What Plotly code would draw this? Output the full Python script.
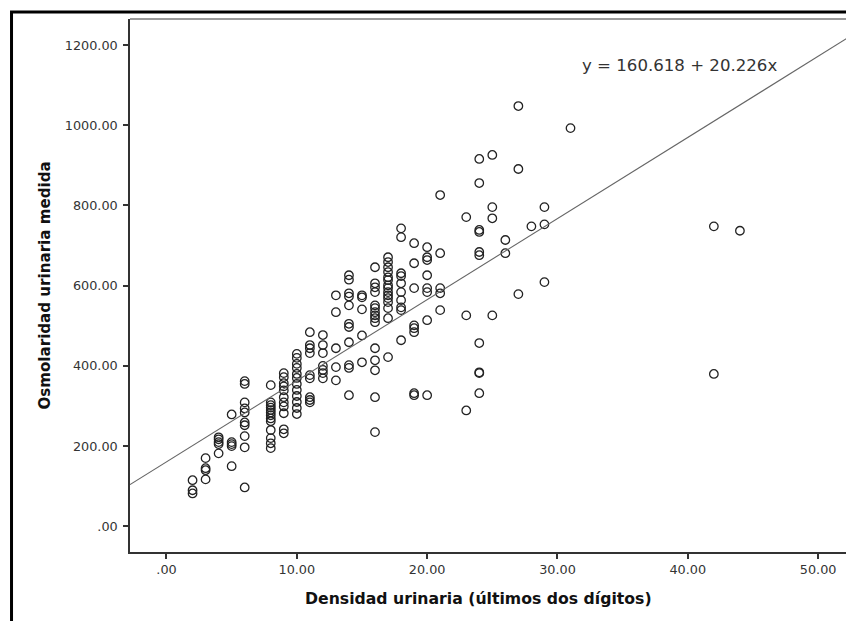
import plotly.graph_objects as go

# Densidad urinaria (últimos dos dígitos) and Osmolaridad urinaria medida
densidad = (
    [2] * 3 + [3] * 4 + [4] * 5 + [5] * 5 + [6] * 10 + [8] * 13 + [9] * 11 + [10] * 12 +
    [11] * 9 + [12] * 7 + [13] * 5 + [14] * 11 + [15] * 5 + [16] * 15 + [17] * 15 +
    [18] * 10 + [19] * 8 + [20] * 8 + [21] * 5 + [23] * 3 + [24] * 10 + [25] * 4 +
    [26] * 2 + [27] * 3 + [28] * 1 + [29] * 3 + [31] * 1 + [42] * 2 + [44] * 1
)
osmolaridad = [
    115, 90, 82,
    170, 145, 140, 117,
    222, 217, 210, 205, 182,
    279, 210, 205, 200, 150,
    362, 355, 309, 294, 284, 259, 252, 225, 197, 97,
    352, 309, 302, 296, 290, 284, 277, 269, 262, 240, 220, 207, 195,
    382, 372, 357, 349, 339, 322, 309, 299, 282, 242, 232,
    430, 420, 405, 395, 380, 370, 355, 340, 325, 310, 295, 280,
    484, 452, 444, 432, 377, 369, 322, 315, 309,
    477, 452, 432, 400, 390, 382, 369,
    576, 534, 444, 397, 364,
    626, 615, 581, 573, 551, 505, 497, 459, 402, 395, 327,
    576, 571, 541, 476, 409,
    646, 606, 596, 584, 551, 544, 534, 526, 519, 509, 444, 414, 389, 322, 235,
    671, 659, 646, 634, 621, 614, 601, 594, 584, 576, 569, 559, 544, 519, 422,
    743, 721, 631, 624, 606, 584, 564, 546, 539, 464,
    706, 656, 594, 501, 494, 484, 332, 327,
    696, 671, 664, 626, 594, 584, 514, 327,
    826, 681, 594, 581, 539,
    771, 526, 289,
    916, 856, 739, 734, 684, 676, 457, 384, 382, 332,
    926, 796, 768, 526,
    714, 681,
    1048, 891, 579,
    748,
    796, 753, 609,
    993,
    748, 380,
    737,
]

intercept = 160.618
slope = 20.226
equation_text = "y = 160.618 + 20.226x"

x_ticks = [0, 10, 20, 30, 40, 50]
x_tick_labels = [".00", "10.00", "20.00", "30.00", "40.00", "50.00"]
y_ticks = [0, 200, 400, 600, 800, 1000, 1200]
y_tick_labels = [".00", "200.00", "400.00", "600.00", "800.00", "1000.00", "1200.00"]

x_range = [-2.8, 52.6]
y_range = [-64, 1265]

fig = go.Figure()

fig.add_trace(go.Scatter(
    x=densidad, y=osmolaridad, mode="markers",
    marker=dict(symbol="circle-open", size=8.5, color="#222222", line=dict(width=1.3, color="#222222")),
    showlegend=False, hoverinfo="x+y",
))

# fit line across the full axis range
fit_x = x_range
fit_y = [intercept + slope * v for v in fit_x]
fig.add_trace(go.Scatter(
    x=fit_x, y=fit_y, mode="lines",
    line=dict(color="#666666", width=1.1),
    showlegend=False, hoverinfo="skip",
))

tick_font = dict(family="DejaVu Sans", size=12.8, color="#333333")
title_font = dict(family="DejaVu Sans", size=15.7, color="#111111")

fig.update_xaxes(
    range=x_range, tickvals=x_ticks, ticktext=x_tick_labels,
    showgrid=False, zeroline=False, showline=True, linecolor="#333333", linewidth=1.5,
    ticks="outside", ticklen=5, tickwidth=1.5, tickcolor="#333333",
    tickfont=tick_font,
)
fig.update_yaxes(
    range=y_range, tickvals=y_ticks, ticktext=y_tick_labels,
    showgrid=False, zeroline=False, showline=True, linecolor="#333333", linewidth=1.5,
    ticks="outside", ticklen=5, tickwidth=1.5, tickcolor="#333333",
    tickfont=tick_font, ticklabelstandoff=3,
)

fig.update_layout(
    width=854, height=621,
    margin=dict(l=122, r=10, t=11, b=77),
    paper_bgcolor="white", plot_bgcolor="white",
    shapes=[
        # gray top and right border of the plot area
        dict(type="line", xref="paper", yref="paper", x0=0, x1=1, y0=1, y1=1,
             line=dict(color="#777777", width=1.5)),
        dict(type="line", xref="paper", yref="paper", x0=1, x1=1, y0=0, y1=1,
             line=dict(color="#777777", width=1.5)),
        # outer black frame
        dict(type="rect", xref="paper", yref="paper", x0=-0.1641, x1=1.2, y0=-0.3, y1=1.0131,
             line=dict(color="black", width=3)),
    ],
    annotations=[
        dict(text=equation_text, x=39.4, y=1150, xref="x", yref="y", showarrow=False,
             font=dict(family="DejaVu Sans", size=16.6, color="#333333")),
        dict(text="<b>Densidad urinaria (últimos dos dígitos)</b>", x=0.483, y=-0.087,
             xref="paper", yref="paper", showarrow=False, yanchor="middle", font=title_font),
        dict(text="<b>Osmolaridad urinaria medida</b>", x=-0.119, y=0.5,
             xref="paper", yref="paper", showarrow=False, textangle=-90, xanchor="center",
             font=dict(family="DejaVu Sans", size=15.1, color="#111111")),
    ],
)

fig.write_html("out.html")
